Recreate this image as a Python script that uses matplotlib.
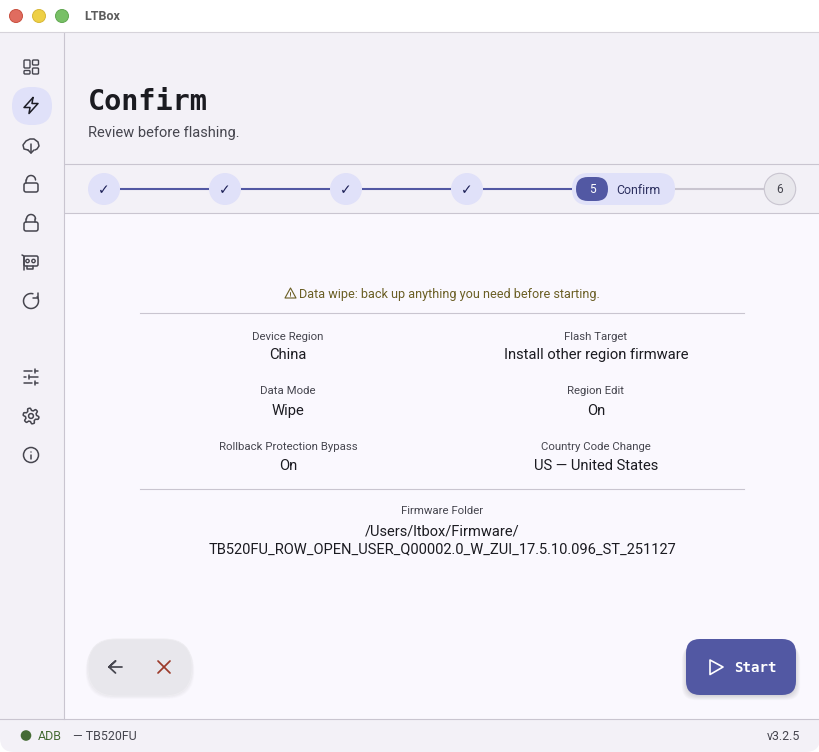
import matplotlib
matplotlib.use('Agg')
import matplotlib.pyplot as plt
import numpy as np
from matplotlib.patches import Circle, FancyBboxPatch, Rectangle, Polygon

# text of the screen
window_title = 'LTBox'
page_title = 'Confirm'
page_subtitle = 'Review before flashing.'
warning_text = 'Data wipe: back up anything you need before starting.'
left_labels = ['Device Region', 'Data Mode', 'Rollback Protection Bypass']
left_values = ['China', 'Wipe', 'On']
right_labels = ['Flash Target', 'Region Edit', 'Country Code Change']
right_values = ['Install other region firmware', 'On', 'US — United States']
folder_label = 'Firmware Folder'
folder_lines = ['/Users/ltbox/Firmware/', 'TB520FU_ROW_OPEN_USER_Q00002.0_W_ZUI_17.5.10.096_ST_251127']
done_steps = ['✓', '✓', '✓', '✓']
current_step = '5'
current_name = 'Confirm'
last_step = '6'
start_label = 'Start'
status_left = 'ADB'
status_device = '— TB520FU'
status_version = 'v3.2.5'

SIDE = '#f3f1f7'
BODY = '#faf8fe'
LINE = '#c9c5d0'
ACCENT = '#5258a3'
SOFT = '#e0e1f9'
GREY = '#e8e7ec'
ICON = '#46464f'
SANS = 'Roboto'
MONO = 'DejaVu Sans Mono'

plt.rcParams['font.family'] = [SANS, 'DejaVu Sans']

fig = plt.figure(figsize=(8.2, 7.52), dpi=100)
ax = fig.add_axes([0, 0, 1, 1])
ax.set_xlim(0, 820)
ax.set_ylim(752, 0)
ax.axis('off')


def rrect(x, y, w, h, r, fc, ec='none', lw=0, z=2, alpha=None):
    p = FancyBboxPatch((x + r, y + r), w - 2 * r, h - 2 * r,
                       boxstyle=f'round,pad={r},rounding_size={r}',
                       fc=fc, ec=ec, lw=lw, zorder=z, alpha=alpha)
    ax.add_patch(p)


def line(xs, ys, c=ICON, lw=1.1, z=5):
    ax.plot(xs, ys, color=c, lw=lw, zorder=z, solid_capstyle='round', solid_joinstyle='round')


def label(x, y, s, size, c, ha='center', **kw):
    ax.text(x, y, s, fontsize=size, color=c, ha=ha, va='center', zorder=6, **kw)


# window pieces
ax.add_patch(Rectangle((0, 0), 820, 752, fc='white', ec='none', zorder=0))
rrect(0, 640, 820, 112, 14, SIDE, z=1)
ax.add_patch(Rectangle((0, 33), 820, 660, fc=SIDE, ec='none', zorder=1))
ax.add_patch(Rectangle((65, 214), 755, 505, fc=BODY, ec='none', zorder=1))
ax.plot([0, 820], [32, 32], color='#d6d3da', lw=0.8, zorder=3)
ax.plot([64, 64], [33, 719], color=LINE, lw=0.8, zorder=3)
ax.plot([65, 820], [164, 164], color=LINE, lw=0.8, zorder=3)
ax.plot([65, 820], [213, 213], color=LINE, lw=0.8, zorder=3)
ax.plot([0, 820], [719, 719], color=LINE, lw=0.8, zorder=3)

# traffic lights
for cx, fc, ec in [(16, '#e06c5f', '#c9503f'), (39, '#eed045', '#d8b838'), (62, '#78c066', '#62a852')]:
    ax.add_patch(Circle((cx, 16), 6.5, fc=fc, ec=ec, lw=0.7, zorder=3))
label(84.5, 16.5, window_title, 9, '#5c5c5c', ha='left', fontweight='bold')

# sidebar icons
rrect(12, 87, 40, 38, 19, SOFT, z=2)


def ico_dash(x, y):
    for rx, ry, w, h in [(-7, -7, 6, 8), (1.5, -7, 6, 5), (1.5, 1, 6, 6), (-7, 3.5, 6, 3.5)]:
        rrect(x + rx, y + ry, w, h, 1, 'none', ICON, 1.0, z=5)


def ico_bolt(x, y):
    line(np.array([2, -7, -1, -2, 7, 1, 2]) + x, np.array([-8, 2, 2, 8, -2, -2, -8]) + y, c='#1d1d26')


def ico_cloud(x, y):
    line(x + np.array([-3, -7, -8, -5, -1, 3, 7, 8, 6, 4]), y + np.array([5, 4, 0, -4, -6, -6, -3, 1, 4, 5]))
    line([x, x], [y - 1, y + 8])
    line([x - 3, x, x + 3], [y + 5, y + 8, y + 5])


def ico_lock(x, y, opened):
    rrect(x - 7, y, 14, 9, 2, 'none', ICON, 1.1, z=5)
    t = np.linspace(np.pi, 2 * np.pi, 20)
    line(x + 4.5 * np.cos(t), y - 3 + 4.5 * np.sin(t))
    line([x - 4.5, x - 4.5], [y - 3, y])
    if not opened:
        line([x + 4.5, x + 4.5], [y - 3, y])


def ico_card(x, y):
    rrect(x - 6, y - 6, 14, 10, 1.5, 'none', ICON, 1.1, z=5)
    line([x - 8, x - 6, x - 6], [y - 7, y - 6, y + 8])
    ax.add_patch(Circle((x - 2.5, y - 1), 1.7, fc='none', ec=ICON, lw=1, zorder=5))
    ax.add_patch(Circle((x + 3.5, y - 1), 1.7, fc='none', ec=ICON, lw=1, zorder=5))
    line([x - 3, x - 3, x + 3, x + 3], [y + 4, y + 7, y + 7, y + 4])


def ico_reload(x, y):
    t = np.radians(np.linspace(-35, 285, 40))
    line(x + 7.5 * np.cos(t), y + 7.5 * np.sin(t))
    line([x + 7, x + 7, x + 2.5], [y - 8, y - 3.5, y - 3.5])


def ico_tune(x, y):
    for dy, gap in [(-6, 3), (0, -3), (6, 3)]:
        line([x - 7, x + gap - 1.5], [y + dy, y + dy])
        line([x + gap + 1.5, x + 7], [y + dy, y + dy])
        line([x + gap + 1.5, x + gap + 1.5], [y + dy - 2, y + dy + 2])


def ico_gear(x, y):
    t = np.linspace(0, 2 * np.pi, 121)
    r = 6.7 + 1.2 * np.clip(np.cos(6 * t) * 2, -1, 1)
    line(x + r * np.cos(t + 0.26), y + r * np.sin(t + 0.26))
    ax.add_patch(Circle((x, y), 2.4, fc='none', ec=ICON, lw=1.1, zorder=5))


def ico_info(x, y):
    ax.add_patch(Circle((x, y), 7.5, fc='none', ec=ICON, lw=1.1, zorder=5))
    line([x, x], [y - 0.5, y + 3.5])
    ax.add_patch(Circle((x, y - 3), 0.7, fc=ICON, ec='none', zorder=5))


ico_dash(31, 67)
ico_bolt(31, 105.5)
ico_cloud(31, 145)
ico_lock(31, 183, True)
ico_lock(31, 222, False)
ico_card(30, 262)
ico_reload(31, 301)
ico_tune(31, 377)
ico_gear(31, 416)
ico_info(31, 455)

# header
label(88, 101.5, page_title, 20.5, '#1b1b21', ha='left', family=[MONO], fontweight='bold')
label(88, 133, page_subtitle, 10.5, '#46464f', ha='left')

# stepper
step_xs = [104, 225, 346, 467]
for sx in step_xs:
    ax.plot([sx + 16, sx + 105], [189, 189], color=ACCENT, lw=1.5, zorder=2, solid_capstyle='butt')
    ax.add_patch(Circle((sx, 189), 16, fc=SOFT, ec='none', zorder=3))
for sx, s in zip(step_xs, done_steps):
    label(sx, 190, s, 10, '#1e2158', family=['DejaVu Sans'])
rrect(572, 173, 103, 32, 16, SOFT, z=3)
rrect(576, 177, 32, 24, 12, ACCENT, z=4)
label(592, 189.5, current_step, 8.6, 'white')
label(616, 190, current_name, 8.9, '#2d3060', ha='left')
ax.plot([675, 764], [189, 189], color=LINE, lw=1.5, zorder=2, solid_capstyle='butt')
ax.add_patch(Circle((780, 189), 15.7, fc=GREY, ec=LINE, lw=0.8, zorder=3))
label(780, 189.5, last_step, 8.6, '#46464f')

# warning and summary
warn_x = 299
w = np.array([[290.5, 288], [285, 298], [296, 298]])
ax.add_patch(Polygon(w, closed=True, fc='none', ec='#6b5f25', lw=0.8, zorder=6, joinstyle='round'))
line([290.5, 290.5], [291.5, 295], c='#6b5f25', lw=0.7, z=6)
ax.add_patch(Circle((290.5, 296.4), 0.4, fc='#6b5f25', ec='none', zorder=6))
label(warn_x, 294.5, warning_text, 9.1, '#6b5f25', ha='left')
ax.plot([140, 744], [313, 313], color=LINE, lw=0.8, zorder=3)
ax.plot([140, 744], [489, 489], color=LINE, lw=0.8, zorder=3)

label_ys = [336.5, 391.5, 447.5]
value_ys = [355, 411, 466]
for i in range(3):
    label(288, label_ys[i], left_labels[i], 8.2, '#46464f')
    label(288, value_ys[i], left_values[i], 10.6, '#1b1b21')
    label(596, label_ys[i], right_labels[i], 8.2, '#46464f')
    label(596, value_ys[i], right_values[i], 10.6, '#1b1b21')

label(442, 511.5, folder_label, 8.2, '#46464f')
label(442, 531.5, folder_lines[0], 10.5, '#1b1b21')
label(442, 549, folder_lines[1], 10.5, '#1b1b21')

# bottom buttons
for k in range(6):
    rrect(88 - k * 0.5, 640 + k * 0.6, 104 + k, 56, 28, '#000000', z=2, alpha=0.012)
rrect(88, 639, 104, 57, 28, GREY, ec='#eeedf1', lw=0.7, z=3)
line([122, 109, 115.5, 109, 115.5], [667, 667, 661, 667, 673], c=ICON, lw=1.25)
line([158, 170], [661, 673], c='#9c3a2a', lw=1.25)
line([170, 158], [661, 673], c='#9c3a2a', lw=1.25)

for k in range(7):
    rrect(686 - k * 0.7, 642 + k * 0.7, 110 + k * 1.4, 54, 14, '#000000', z=2, alpha=0.018)
rrect(686, 639, 110, 56, 14, ACCENT, z=3)
ax.add_patch(Polygon([[710, 660], [723, 667], [710, 674.5]], closed=True, fc='none', ec='white',
                     lw=1.2, joinstyle='round', zorder=5))
label(734, 667.5, start_label, 10.2, 'white', ha='left', family=[MONO], fontweight='bold')

# status bar
ax.add_patch(Circle((26, 735.5), 5.3, fc='#456b35', ec='none', zorder=4))
label(37.5, 737, status_left, 8.9, '#456b35', ha='left')
label(73, 737, status_device, 8.9, '#46464f', ha='left')
label(800, 737, status_version, 8.9, '#46464f', ha='right')

fig.savefig('out.png', dpi=100)
